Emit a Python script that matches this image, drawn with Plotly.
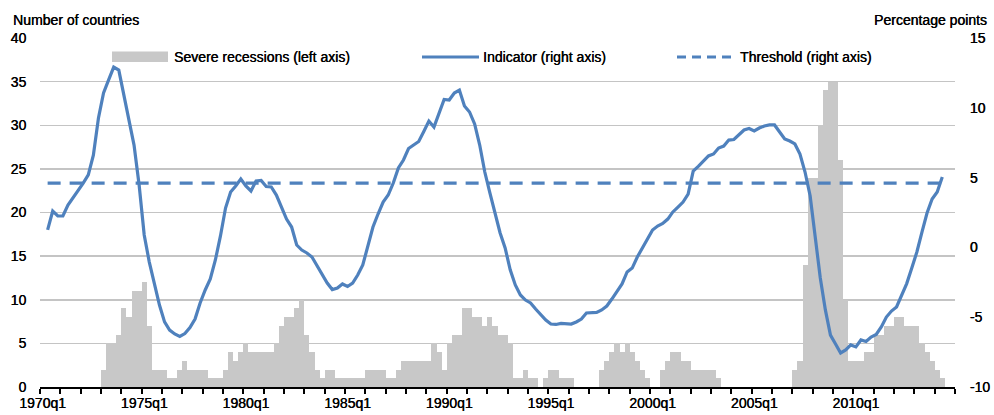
import plotly.graph_objects as go

# ---------------- data ----------------
years = list(range(1970, 2015))
quarters = [f"{y}q{q}" for y in years for q in range(1, 5)]  # 1970q1 .. 2014q4

# Number of countries in severe recession, per quarter (left axis)
recessions = [
    0, 0, 0, 0, 0, 0, 0, 0, 0, 0, 0, 0,            # 1970q1-1972q4
    2, 5, 5, 6, 9, 8, 11, 11, 12, 7, 2, 2,          # 1973q1-1975q4
    2, 1, 1, 2, 3, 2, 2, 2, 2, 1, 1, 1,             # 1976q1-1978q4
    2, 4, 3, 4, 5, 4, 4, 4, 4, 4, 5, 7,             # 1979q1-1981q4
    8, 8, 9, 10, 6, 4, 2, 1, 2, 2, 1, 1,            # 1982q1-1984q4
    1, 1, 1, 1, 2, 2, 2, 2, 1, 1, 2, 3,             # 1985q1-1987q4
    3, 3, 3, 3, 3, 5, 4, 2, 5, 6, 6, 9,             # 1988q1-1990q4
    9, 8, 8, 7, 8, 7, 6, 6, 5, 1, 1, 2,             # 1991q1-1993q4
    1, 1, 0, 1, 2, 2, 1, 1, 1, 0, 0, 0,             # 1994q1-1996q4
    0, 0, 2, 3, 4, 5, 4, 5, 4, 3, 2, 1,             # 1997q1-1999q4
    0, 0, 2, 3, 4, 4, 3, 3, 2, 2, 2, 2,             # 2000q1-2002q4
    2, 1, 0, 0, 0, 0, 0, 0, 0, 0, 0, 0,             # 2003q1-2005q4
    0, 0, 0, 0, 2, 3, 14, 24, 24, 30, 34, 35,       # 2006q1-2008q4
    35, 26, 10, 3, 3, 3, 4, 4, 6, 6, 7, 7,          # 2009q1-2011q4
    8, 8, 7, 7, 7, 5, 4, 3, 2, 1, 0, 0,             # 2012q1-2014q4
]

# Indicator (right axis), 1970q2 .. 2014q2
indicator_start = "1970q2"
indicator = [
    1.25, 2.6, 2.25, 2.25, 3.04, 3.54, 4.04, 4.6, 5.2, 6.6,
    9.27, 11.06, 12.0, 12.92, 12.7, 10.9, 9.1, 7.33, 4.47, 0.89,
    -1.05, -2.6, -4.13, -5.34, -5.92, -6.2, -6.38, -6.17, -5.74, -5.13,
    -3.98, -3.05, -2.26, -0.9, 0.82, 2.82, 3.97, 4.4, 4.9, 4.4,
    4.04, 4.76, 4.79, 4.36, 4.33, 3.75, 2.82, 2.03, 1.46, 0.17,
    -0.19, -0.4, -0.69, -1.33, -1.98, -2.55, -3.02, -2.91, -2.62, -2.8,
    -2.55, -1.98, -1.26, 0.1, 1.46, 2.39, 3.25, 3.75, 4.61, 5.69,
    6.26, 7.08, 7.33, 7.59, 8.3, 9.05, 8.62, 9.56, 10.6, 10.56,
    11.06, 11.27, 10.13, 9.7, 8.84, 7.33, 5.4, 3.9, 2.5, 1.05,
    -0.04, -1.6, -2.69, -3.41, -3.77, -3.98, -4.41, -4.84, -5.2, -5.49,
    -5.52, -5.45, -5.45, -5.49, -5.34, -5.13, -4.7, -4.66, -4.66, -4.48,
    -4.2, -3.7, -3.19, -2.62, -1.76, -1.48, -0.69, -0.04, 0.6, 1.25,
    1.53, 1.71, 2.03, 2.54, 2.89, 3.25, 3.82, 5.47, 5.8, 6.15,
    6.55, 6.69, 7.12, 7.26, 7.69, 7.73, 8.1, 8.41, 8.52, 8.34,
    8.55, 8.7, 8.77, 8.77, 8.27, 7.77, 7.62, 7.41, 6.69, 5.4,
    3.7, 0.8, -2.19, -4.48, -6.28, -6.92, -7.56, -7.35, -6.99, -7.13,
    -6.63, -6.74, -6.42, -6.24, -5.7, -4.99, -4.56, -4.27, -3.48, -2.59,
    -1.48, -0.33, 1.1, 2.46, 3.47, 3.97, 5.04,
]

threshold_value = 4.6

label_quarters = ["1970q1", "1975q1", "1980q1", "1985q1", "1990q1",
                  "1995q1", "2000q1", "2005q1", "2010q1"]

left_ticks = [0, 5, 10, 15, 20, 25, 30, 35, 40]
right_ticks = [-10, -5, 0, 5, 10, 15]

legend_labels = ["Severe recessions (left axis)", "Indicator (right axis)",
                 "Threshold (right axis)"]

# ---------------- figure ----------------
W, H = 994, 415
L, R, T, B = 40, 39, 38, 28
PW, PH = W - L - R, H - T - B

def px(xp):
    return (xp - L) / PW

def py(yp):
    return (H - B - yp) / PH

BLUE = "#4F81BD"
GRAY = "#C8C8C8"
FONT = "Liberation Sans, Arial, sans-serif"
CLEAR = "rgba(0,0,0,0)"
SHADOW = "0.35px 0px 0px #000"

xi = list(range(len(quarters)))
s = quarters.index(indicator_start)
x_ind = xi[s:s + len(indicator)]

fig = go.Figure()
fig.add_trace(go.Bar(x=xi, y=recessions, width=1, marker=dict(color=GRAY, line=dict(width=0)),
                     name=legend_labels[0], showlegend=False, yaxis="y"))
fig.add_trace(go.Scatter(x=x_ind, y=indicator, mode="lines", line=dict(color=BLUE, width=3.2),
                         name=legend_labels[1], showlegend=False, yaxis="y2"))
fig.add_trace(go.Scatter(x=x_ind, y=[threshold_value] * len(x_ind), mode="lines",
                         line=dict(color=BLUE, width=3.2, dash="13px,9px"),
                         name=legend_labels[2], showlegend=False, yaxis="y2"))

label_idx = [quarters.index(q) for q in label_quarters]
minor_ticks = [i - 0.5 for i in range(0, len(quarters) + 1, 4)]

tick_font = dict(size=14, color="black", family=FONT, shadow=SHADOW)

fig.update_layout(
    width=W, height=H,
    margin=dict(l=L, r=R, t=T, b=B, autoexpand=False),
    paper_bgcolor="white", plot_bgcolor="white",
    font=dict(family=FONT, size=14, color="black"),
    bargap=0,
    hovermode=False,
    xaxis=dict(
        range=[-0.5, len(quarters) - 0.5], automargin=False,
        tickvals=label_idx, ticktext=label_quarters,
        ticks="outside", ticklen=2, tickcolor=CLEAR,
        showgrid=False, zeroline=False,
        showline=True, linecolor="black", linewidth=2,
        tickfont=tick_font,
        minor=dict(tickvals=minor_ticks, ticks="outside", ticklen=5, tickwidth=2,
                   tickcolor="black", showgrid=False),
    ),
    yaxis=dict(
        range=[0, 40], automargin=False,
        tickvals=left_ticks, ticktext=[str(v) for v in left_ticks],
        showgrid=True, gridcolor="#C4C4C4", gridwidth=1.5,
        zeroline=False, showline=False,
        ticks="outside", ticklen=10, tickcolor=CLEAR,
        tickfont=tick_font,
    ),
    yaxis2=dict(
        range=[-10, 15], automargin=False,
        tickvals=right_ticks, ticktext=[str(v) for v in right_ticks],
        overlaying="y", side="right",
        showgrid=False, zeroline=False, showline=False,
        ticks="outside", ticklen=11, tickcolor=CLEAR,
        tickfont=tick_font,
    ),
)

# legend (drawn manually to match the reference layout)
ly = 57
shapes = [
    dict(type="rect", xref="paper", yref="paper", x0=px(112), x1=px(168), y0=py(62), y1=py(51.5),
         fillcolor=GRAY, line=dict(width=0)),
    dict(type="line", xref="paper", yref="paper", x0=px(422), x1=px(479), y0=py(ly), y1=py(ly),
         line=dict(color=BLUE, width=3.2)),
    dict(type="line", xref="paper", yref="paper", x0=px(677), x1=px(733), y0=py(ly), y1=py(ly),
         line=dict(color=BLUE, width=3.2, dash="9px,6px")),
]
fig.update_layout(shapes=shapes)

ann = [
    dict(text=legend_labels[0], x=px(173), y=py(ly)),
    dict(text=legend_labels[1], x=px(482), y=py(ly)),
    dict(text=legend_labels[2], x=px(739), y=py(ly)),
]
for a in ann:
    fig.add_annotation(text=a["text"], x=a["x"], y=a["y"], xref="paper", yref="paper",
                       xanchor="left", yanchor="middle", showarrow=False, borderpad=0,
                       font=tick_font)

fig.add_annotation(text="Number of countries", x=px(12), y=py(20), xref="paper", yref="paper",
                   xanchor="left", yanchor="middle", showarrow=False, borderpad=0,
                   font=tick_font)
fig.add_annotation(text="Percentage points", x=px(988), y=py(20), xref="paper", yref="paper",
                   xanchor="right", yanchor="middle", showarrow=False, borderpad=0,
                   font=tick_font)

# remove the default page margin so the 994x415 figure fills the window exactly
fig.write_html("out.html", config={"displayModeBar": False, "staticPlot": True},
               post_script="document.body.style.margin='0px';")
